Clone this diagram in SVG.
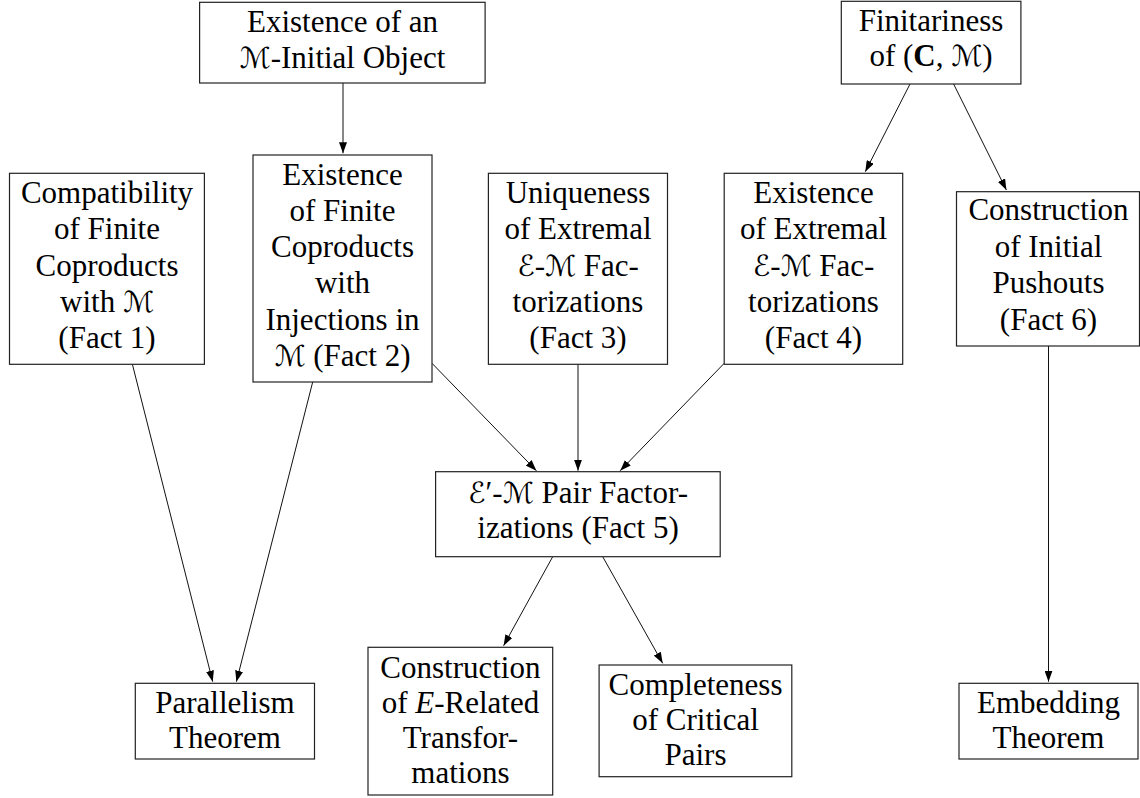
<svg xmlns="http://www.w3.org/2000/svg" width="1140" height="798" viewBox="0 0 1140 798">
<style>
rect.box{fill:#fff;stroke:#222;stroke-width:1.2}
text{font-family:'Liberation Serif','Times New Roman',serif;font-size:31px;fill:#000;text-anchor:middle}
.m{font-family:'DejaVu Serif','DejaVu Sans',serif;font-style:italic;font-size:29px}
.i{font-style:italic}
.b{font-weight:bold}
.conn line{stroke:#111;stroke-width:1}
</style>
<defs>
<marker id="ah" markerUnits="userSpaceOnUse" markerWidth="11" markerHeight="8" refX="11" refY="4" orient="auto">
<path d="M0,0 L11,4 L0,8 z" fill="#000"/>
</marker>
</defs>
<rect width="1140" height="798" fill="#fff"/>
<g class="conn">
<line x1="343" y1="83" x2="343" y2="153.3" marker-end="url(#ah)"/>
<line x1="910" y1="84" x2="865.3" y2="171.7" marker-end="url(#ah)"/>
<line x1="953.6" y1="84" x2="1006.4" y2="190" marker-end="url(#ah)"/>
<line x1="132.4" y1="364.3" x2="212.7" y2="681.7" marker-end="url(#ah)"/>
<line x1="312.7" y1="382" x2="236.4" y2="681.7" marker-end="url(#ah)"/>
<line x1="432" y1="363.3" x2="536.4" y2="470.7" marker-end="url(#ah)"/>
<line x1="578" y1="364.3" x2="578" y2="470.7" marker-end="url(#ah)"/>
<line x1="724.2" y1="363.3" x2="620.2" y2="470.7" marker-end="url(#ah)"/>
<line x1="552.7" y1="556.7" x2="503.6" y2="645.7" marker-end="url(#ah)"/>
<line x1="602.7" y1="556.7" x2="662.7" y2="663.3" marker-end="url(#ah)"/>
<line x1="1048.5" y1="346" x2="1048.5" y2="681.7" marker-end="url(#ah)"/>
</g>
<g id="initial-object">
<rect class="box" x="199.6" y="2.3" width="285.5" height="80.7"/>
<text x="342.5" y="32.3">Existence of an</text>
<text x="342.5" y="68.3"><tspan class="m">ℳ</tspan>-Initial Object</text>
</g>
<g id="finitariness">
<rect class="box" x="841.3" y="1.3" width="179.6" height="82.7"/>
<text x="931" y="30.7">Finitariness</text>
<text x="931" y="65.7">of (<tspan class="b">C</tspan>, <tspan class="m">ℳ</tspan>)</text>
</g>
<g id="fact1">
<rect class="box" x="9.5" y="173.3" width="194.9" height="191"/>
<text x="107" y="203.3">Compatibility</text>
<text x="107" y="239.3">of Finite</text>
<text x="107" y="275.5">Coproducts</text>
<text x="107" y="311.7">with <tspan class="m">ℳ</tspan></text>
<text x="107" y="348.3">(Fact 1)</text>
</g>
<g id="fact2">
<rect class="box" x="253" y="155" width="179" height="227"/>
<text x="342.5" y="185">Existence</text>
<text x="342.5" y="221">of Finite</text>
<text x="342.5" y="257">Coproducts</text>
<text x="342.5" y="293.3">with</text>
<text x="342.5" y="329.5">Injections in</text>
<text x="342.5" y="365.5"><tspan class="m">ℳ</tspan> (Fact 2)</text>
</g>
<g id="fact3">
<rect class="box" x="488.4" y="173.3" width="179.1" height="191"/>
<text x="578" y="203.3">Uniqueness</text>
<text x="578" y="239.3">of Extremal</text>
<text x="578" y="275.5"><tspan class="m">ℰ</tspan>-<tspan class="m">ℳ</tspan> Fac-</text>
<text x="578" y="311.7">torizations</text>
<text x="578" y="348.3">(Fact 3)</text>
</g>
<g id="fact4">
<rect class="box" x="724.2" y="173.3" width="178.5" height="191"/>
<text x="813.5" y="203.3">Existence</text>
<text x="813.5" y="239.3">of Extremal</text>
<text x="813.5" y="275.5"><tspan class="m">ℰ</tspan>-<tspan class="m">ℳ</tspan> Fac-</text>
<text x="813.5" y="311.7">torizations</text>
<text x="813.5" y="348.3">(Fact 4)</text>
</g>
<g id="fact6">
<rect class="box" x="956.5" y="191.7" width="183" height="154.3"/>
<text x="1048.5" y="220">Construction</text>
<text x="1048.5" y="256.7">of Initial</text>
<text x="1048.5" y="293.3">Pushouts</text>
<text x="1048.5" y="330">(Fact 6)</text>
</g>
<g id="fact5">
<rect class="box" x="435.6" y="471.7" width="284.6" height="85"/>
<text x="578" y="503.3"><tspan class="m">ℰ</tspan>′-<tspan class="m">ℳ</tspan> Pair Factor-</text>
<text x="578" y="538.3">izations (Fact 5)</text>
</g>
<g id="parallelism">
<rect class="box" x="135.3" y="683.3" width="179.2" height="75.7"/>
<text x="225" y="713.3">Parallelism</text>
<text x="225" y="748.3">Theorem</text>
</g>
<g id="e-related">
<rect class="box" x="368" y="647.3" width="184.7" height="147.7"/>
<text x="460.4" y="678.3">Construction</text>
<text x="460.4" y="713.3">of <tspan class="i">E</tspan>-Related</text>
<text x="460.4" y="748.3">Transfor-</text>
<text x="460.4" y="783.3">mations</text>
</g>
<g id="completeness">
<rect class="box" x="599.1" y="665" width="192.7" height="111.7"/>
<text x="695.5" y="695">Completeness</text>
<text x="695.5" y="730">of Critical</text>
<text x="695.5" y="765">Pairs</text>
</g>
<g id="embedding">
<rect class="box" x="959" y="683.3" width="179" height="75.7"/>
<text x="1048.5" y="713.3">Embedding</text>
<text x="1048.5" y="748.3">Theorem</text>
</g>
</svg>
